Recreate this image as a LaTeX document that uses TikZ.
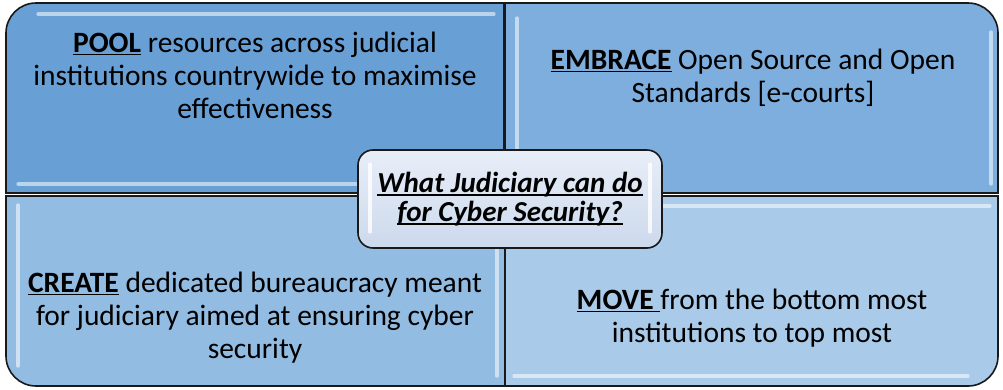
\documentclass[tikz,border=0pt]{standalone}
\usepackage{fontspec}
\setmainfont{Carlito}
% underline drawn at a fixed depth under the baseline, through descenders
\newsavebox\ulbox
\newcommand\ulword[1]{\sbox\ulbox{#1}\rlap{\vrule width\wd\ulbox height -1.6pt depth 3.4pt}\usebox\ulbox}
\definecolor{qpool}{RGB}{104,160,213}
\definecolor{qembrace}{RGB}{125,174,221}
\definecolor{qcreate}{RGB}{147,188,226}
\definecolor{qmove}{RGB}{169,202,232}
\definecolor{hubtop}{RGB}{232,238,248}
\definecolor{hubbot}{RGB}{204,217,236}
\definecolor{edge}{RGB}{25,25,25}
\tikzset{
  quad/.style={draw=edge, line width=1.6pt},
  shine/.style={draw=white, line width=3.2pt, line cap=round, opacity=0.55},
  quadtext/.style={anchor=north, align=center, inner sep=0pt, text=black,
    font=\fontsize{29.5}{33}\selectfont},
  hub/.style={draw=edge, line width=1.6pt, rounded corners=15pt,
    top color=hubtop, bottom color=hubbot, minimum width=304pt, minimum height=98pt,
    align=center, inner sep=0pt, font=\fontsize{29}{29}\selectfont\bfseries\itshape}
}
\begin{document}
\begin{tikzpicture}[x=1pt,y=-1pt]
\useasboundingbox (0,0) rectangle (1003,389);
% four quadrants, each with one rounded outer corner
\draw[quad, fill=qpool] (504,193) -- (6,193) [rounded corners=30pt] -- (6,3) [sharp corners] -- (504,3) -- cycle;
\draw[quad, fill=qembrace] (505,3) [rounded corners=30pt] -- (998,3) [sharp corners] -- (998,193) -- (505,193) -- cycle;
\draw[quad, fill=qcreate] (505,196) -- (505,386) [rounded corners=30pt] -- (6,386) [sharp corners] -- (6,196) -- cycle;
\draw[quad, fill=qmove] (998,196) [rounded corners=30pt] -- (998,386) [sharp corners] -- (505,386) -- (505,196) -- cycle;
% glossy highlights
\draw[shine] (38,14) -- (494,14);
\draw[shine] (18,184) -- (494,184);
\draw[shine] (517,18) -- (517,180);
\draw[shine] (991,32) -- (991,184);
\draw[shine] (18,205) -- (18,366);
\draw[shine] (497,206) -- (497,376);
\draw[shine] (516,206) -- (990,206);
\draw[shine] (514,376) -- (968,376);
% quadrant texts
\node[quadtext] (pool) at (255,31.4) {\ulword{\bfseries POOL} resources across judicial\\institutions countrywide to maximise\\effectiveness};
\node[quadtext] (embrace) at (753,48.4) {\ulword{\bfseries EMBRACE} Open Source and Open\\Standards [e-courts]};
\node[quadtext] (create) at (255,271.4) {\ulword{\bfseries CREATE} dedicated bureaucracy meant\\for judiciary aimed at ensuring cyber\\security};
\node[quadtext] (move) at (752,288.4) {\ulword{\bfseries MOVE }from the bottom most\\institutions to top most};
% central question
\node[hub] (hub) at (510,199) {\ulword{What Judiciary can do}\\\ulword{for Cyber Security?}};
\draw[shine, opacity=0.8] (370,164) -- (370,232);
\draw[shine, opacity=0.8] (650,164) -- (650,232);
\end{tikzpicture}
\end{document}
